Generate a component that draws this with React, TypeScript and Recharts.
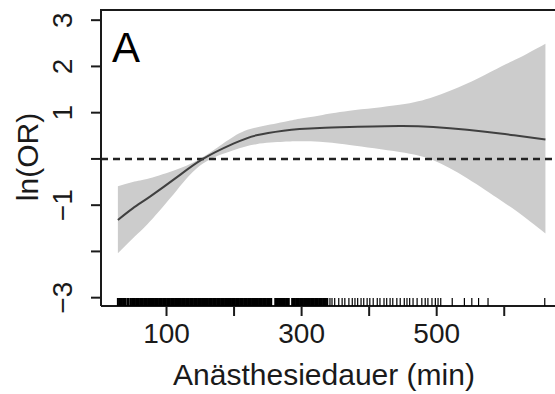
import React from "react";
import {
  ComposedChart,
  Area,
  Line,
  Scatter,
  XAxis,
  YAxis,
  ReferenceLine,
} from "recharts";

// Anesthesia duration (min) at which the curve was read
const durations = [28, 50, 75, 115, 154, 199, 233, 273, 297, 327, 371, 445, 495, 545, 594, 620, 661];
// ln(OR) estimate
const estimate = [-1.32, -1.07, -0.82, -0.4, 0.0, 0.33, 0.51, 0.61, 0.645, 0.67, 0.69, 0.71, 0.69, 0.63, 0.55, 0.5, 0.42];
// 95% CI lower / upper
const lowerCI = [-2.04, -1.72, -1.36, -0.68, -0.1, 0.19, 0.32, 0.37, 0.38, 0.37, 0.3, 0.15, -0.03, -0.42, -0.89, -1.15, -1.61];
const upperCI = [-0.59, -0.5, -0.42, -0.23, 0.04, 0.48, 0.68, 0.8, 0.87, 0.94, 1.04, 1.17, 1.34, 1.63, 1.99, 2.17, 2.49];

// rug of observed durations
const rugValues = [
  28, 30, 32, 34, 36, 38, 39, 42, 44, 47, 49, 51, 53, 55, 57, 59, 61, 63, 65, 67, 69, 71, 73, 75, 77, 79,
  81, 83, 85, 87, 89, 91, 93, 95, 97, 99, 101, 103, 105, 107, 109, 111, 113, 115, 117, 119, 121, 123, 125,
  127, 129, 131, 133, 135, 137, 139, 141, 143, 145, 147, 149, 151, 153, 155, 157, 159, 161, 163, 165, 167,
  169, 171, 173, 175, 177, 179, 181, 183, 185, 187, 189, 191, 193, 195, 197, 199, 201, 203, 205, 207, 209,
  211, 213, 215, 217, 219, 221, 223, 225, 227, 229, 231, 233, 235, 237, 239, 241, 243, 245, 247, 249, 251,
  253, 255, 261, 263, 265, 267, 269, 271, 273, 275, 277, 279, 281, 286, 288, 290, 292, 294, 296, 298, 300,
  302, 304, 306, 308, 310, 312, 314, 316, 318, 320, 322, 324, 326, 328, 330, 332, 334, 336, 338, 342, 345,
  349, 355, 360, 364, 370, 375, 379, 383, 388, 392, 397, 401, 406, 412, 416, 422, 426, 431, 435, 441, 446,
  452, 456, 460, 465, 471, 478, 483, 487, 493, 498, 502, 506, 523, 541, 552, 562, 576, 660,
];

const xTicks = [100, 200, 300, 400, 500, 600];
const xTickLabels = [100, 300, 500];
const yTicks = [-3, -2, -1, 0, 1, 2, 3];
const yTickLabels = [3, 2, 1, -1, -3];

const X_DOMAIN: [number, number] = [3, 687];
const Y_DOMAIN: [number, number] = [-3.18, 3.22];

const curveData = durations.map((d, i) => ({
  x: d,
  est: estimate[i],
  band: [lowerCI[i], upperCI[i]],
}));
const rugData = rugValues.map((v) => ({ x: v, y: Y_DOMAIN[0] }));

const FONT = '"Liberation Sans", Arial, sans-serif';
const INK = "#1a1a1a";

const XTick = (props: any) => {
  const { x, y, payload } = props;
  if (!xTickLabels.includes(payload.value)) return <g />;
  return (
    <text x={x} y={y + 27} textAnchor="middle" fontSize={28} fontFamily={FONT} fill={INK}>
      {String(payload.value)}
    </text>
  );
};

const YTick = (props: any) => {
  const { x, y, payload } = props;
  if (!yTickLabels.includes(payload.value)) return <g />;
  const label = payload.value < 0 ? "\u2212" + Math.abs(payload.value) : String(payload.value);
  const bx = x - 19;
  return (
    <text
      x={bx}
      y={y}
      textAnchor="middle"
      fontSize={28}
      fontFamily={FONT}
      fill={INK}
      transform={`rotate(-90, ${bx}, ${y})`}
    >
      {label}
    </text>
  );
};

const RugTick = (props: any) => {
  const { cx, cy } = props;
  if (cx == null || cy == null) return <g />;
  const w = props.payload && props.payload.x > 340 ? 1.2 : 2;
  return <line x1={cx} x2={cx} y1={cy} y2={cy - 8} stroke="#000" strokeWidth={w} />;
};

export default function App() {
  return (
    <div
      style={{
        position: "absolute",
        left: 0,
        top: 0,
        width: 555,
        height: 394,
        overflow: "hidden",
        background: "#fff",
      }}
    >
      <ComposedChart
        width={572}
        height={394}
        data={curveData}
        margin={{ top: 10, right: 9, bottom: 0, left: 0 }}
      >
        <XAxis
          type="number"
          dataKey="x"
          domain={X_DOMAIN}
          allowDataOverflow
          ticks={xTicks}
          interval={0}
          height={88}
          tickSize={10}
          tickMargin={0}
          tick={<XTick />}
          tickLine={{ stroke: INK, strokeWidth: 2 }}
          axisLine={{ stroke: INK, strokeWidth: 2 }}
        />
        <YAxis
          type="number"
          domain={Y_DOMAIN}
          allowDataOverflow
          ticks={yTicks}
          interval={0}
          width={101}
          tickSize={10}
          tickMargin={0}
          tick={<YTick />}
          tickLine={{ stroke: INK, strokeWidth: 2 }}
          axisLine={{ stroke: INK, strokeWidth: 2 }}
        />
        <Area
          dataKey="band"
          type="natural"
          fill="#cccccc"
          fillOpacity={1}
          stroke="none"
          isAnimationActive={false}
        />
        <ReferenceLine y={0} stroke="#222" strokeWidth={2.5} strokeDasharray="7 5" />
        <Line
          dataKey="est"
          type="natural"
          stroke="#404040"
          strokeWidth={2}
          dot={false}
          isAnimationActive={false}
        />
        <Scatter data={rugData} dataKey="y" shape={<RugTick />} isAnimationActive={false} />
        <text x={112} y={62} fontSize={42} fontFamily={FONT} fill="#000">
          A
        </text>
        <text
          x={38}
          y={157}
          textAnchor="middle"
          fontSize={30}
          fontFamily={FONT}
          fill={INK}
          transform="rotate(-90, 38, 157)"
        >
          ln(OR)
        </text>
        <text x={324} y={385} textAnchor="middle" fontSize={30} fontFamily={FONT} fill={INK}>
          Anästhesiedauer (min)
        </text>
      </ComposedChart>
      <div
        style={{
          position: "absolute",
          left: 100,
          top: 9,
          width: 470,
          height: 2,
          background: INK,
        }}
      />
    </div>
  );
}
